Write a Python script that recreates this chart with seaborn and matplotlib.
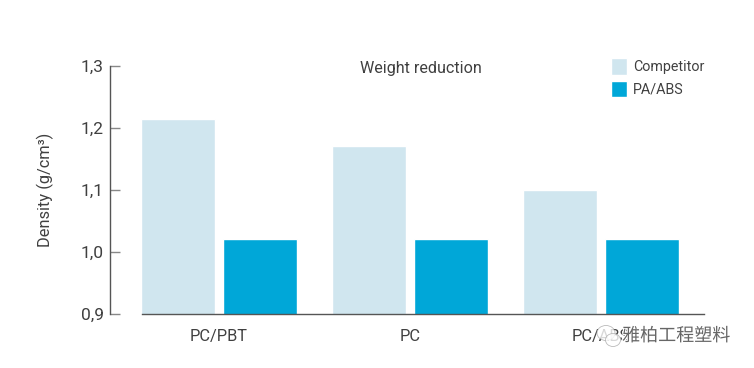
# coding = utf-8
import pandas as pd
import seaborn as sns
import matplotlib.pyplot as plt
import matplotlib.patheffects as pe
from matplotlib.patches import Ellipse

categories = ["PC/PBT", "PC", "PC/ABS"]
competitor = [1.214, 1.171, 1.1]
pa_abs = [1.021, 1.021, 1.021]
y_ticks = [0.9, 1.0, 1.1, 1.2, 1.3]
y_labels = ["0,9", "1,0", "1,1", "1,2", "1,3"]

df = pd.DataFrame({
    "material": categories * 2,
    "density": competitor + pa_abs,
    "series": ["Competitor"] * 3 + ["PA/ABS"] * 3,
})

sns.set_theme(style="white")
plt.rcParams['font.family'] = ['Roboto', 'Noto Sans CJK SC', 'DejaVu Sans']
text_color = "#404040"
axis_color = "#555555"

fig = plt.figure(figsize=(7.54, 3.68), dpi=100)
# axes box in pixels: x 110.5-704, y 65.5-314
ax = fig.add_axes([110.5 / 754, 1 - 314 / 368, 593.5 / 754, 248.5 / 368])

sns.barplot(data=df, x="material", y="density", hue="series",
            palette=["#d0e6ef", "#00a7d8"], width=0.862, gap=0.105,
            saturation=1, ax=ax)

ax.set_xlim(-0.568, 2.54)
ax.set_ylim(0.9, 1.3)
ax.set_yticks(y_ticks)
ax.set_yticklabels(y_labels, fontsize=12.5, color=text_color)
ax.tick_params(axis="y", direction="in", length=7.5, width=1, color="#888888", pad=5, left=True)
ax.tick_params(axis="x", length=0, pad=11)
for lab in ax.get_xticklabels():
    lab.set_fontsize(11.8)
    lab.set_color(text_color)
ax.set_xlabel("")
ax.set_ylabel("Density (g/cm³)", fontsize=11.8, color=text_color, labelpad=19)

for side in ["top", "right"]:
    ax.spines[side].set_visible(False)
ax.spines["left"].set_color(axis_color)
ax.spines["left"].set_linewidth(1)
ax.spines["bottom"].set_color(axis_color)
ax.spines["bottom"].set_linewidth(1)
ax.spines["bottom"].set_bounds(-0.403, 2.54)

fig.text(421 / 754, 1 - 68 / 368, "Weight reduction", ha="center", va="center",
         fontsize=11.6, color=text_color)

ax.legend(title=None, frameon=False, loc="upper left",
          bbox_to_anchor=((598 - 110.5) / 593.5, 1.082),
          handlelength=1.12, handleheight=1.4,
          handletextpad=0.42, labelspacing=0.42, labelcolor=text_color,
          prop={"size": 10.3})

# watermark over the last label
fig.text(622 / 754, 1 - 336 / 368, "雅柏工程塑料", ha="left", va="center",
         fontsize=13, color="#666666", fontweight="light",
         path_effects=[pe.withStroke(linewidth=1.5, foreground="white")])
for cx, cy, w, h in [(606, 333, 18, 15), (613, 340, 15, 13)]:
    fig.add_artist(Ellipse((cx / 754, 1 - cy / 368), w / 754, h / 368,
                           transform=fig.transFigure, facecolor="white", alpha=0.8,
                           edgecolor="#aaaaaa", linewidth=0.6))

fig.savefig("out.png", dpi=100)
